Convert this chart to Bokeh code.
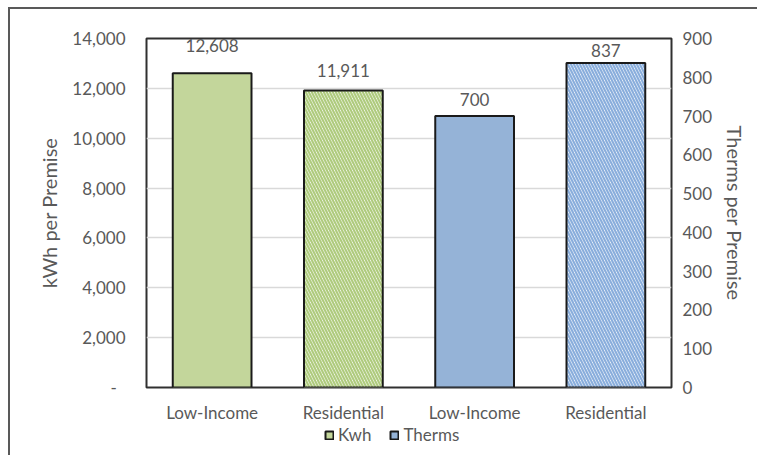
from bokeh.plotting import figure
from bokeh.layouts import column
from bokeh.core.properties import value
from bokeh.models import (Range1d, LinearAxis, FixedTicker, NumeralTickFormatter,
                          ColumnDataSource, LabelSet, Legend, LegendItem)
from bokeh.embed import file_html
from bokeh.resources import INLINE

# ---- data ----
categories = ["Low-Income", "Residential", "Low-Income", "Residential"]
kwh_groups = ["Low-Income", "Residential"]
kwh_values = [12608, 11911]
therms_groups = ["Low-Income", "Residential"]
therms_values = [700, 837]
kwh_ticks = [0, 2000, 4000, 6000, 8000, 10000, 12000, 14000]
therms_ticks = [0, 100, 200, 300, 400, 500, 600, 700, 800, 900]
series_names = ["Kwh", "Therms"]

# ---- style ----
FONT = "Lato"
GREY = "#595959"
GREEN = "#C3D69B"
GREEN_HATCH = "#AFCB7E"
BLUE = "#95B3D7"
BLUE_HATCH = "#8AAEDC"
EDGE = "#1a1a1a"
label_gaps = [21, 14, 10, 6]  # pixel gap between bar top and its value label

xs = [i + 0.5 for i in range(len(categories))]

W = 747
p = figure(width=W, height=416, x_range=Range1d(0, len(categories)),
           y_range=Range1d(kwh_ticks[0], kwh_ticks[-1]),
           output_backend="svg", toolbar_location=None,
           min_border_left=136, min_border_right=86,
           min_border_top=29, min_border_bottom=33)
p.extra_y_ranges = {"therms": Range1d(therms_ticks[0], therms_ticks[-1])}
p.outline_line_color = "#303030"
p.outline_line_width = 2
p.background_fill_color = "white"
p.border_fill_color = "white"

# Kwh bars
r_kwh_solid = p.vbar(x=[xs[0]], top=[kwh_values[0]], width=0.6,
                     fill_color=GREEN, line_color=EDGE, line_width=2)
r_kwh_hatch = p.vbar(x=[xs[1]], top=[kwh_values[1]], width=0.6,
                     fill_color="white", hatch_pattern="left_diagonal_line",
                     hatch_color=GREEN_HATCH, hatch_weight=2.2, hatch_scale=6,
                     line_color=EDGE, line_width=2)
# Therms bars
r_th_solid = p.vbar(x=[xs[2]], top=[therms_values[0]], width=0.6, y_range_name="therms",
                    fill_color=BLUE, line_color=EDGE, line_width=2)
r_th_hatch = p.vbar(x=[xs[3]], top=[therms_values[1]], width=0.6, y_range_name="therms",
                    fill_color="white", hatch_pattern="left_diagonal_line",
                    hatch_color=BLUE_HATCH, hatch_weight=2.2, hatch_scale=6,
                    line_color=EDGE, line_width=2)

# value labels
kwh_src = ColumnDataSource(dict(x=xs[:2], y=kwh_values,
                                t=["{:,}".format(v) for v in kwh_values],
                                off=label_gaps[:2]))
th_src = ColumnDataSource(dict(x=xs[2:], y=therms_values,
                               t=["{:,}".format(v) for v in therms_values],
                               off=label_gaps[2:]))
for src, rn in ((kwh_src, "default"), (th_src, "therms")):
    ls = LabelSet(x="x", y="y", text="t", source=src, y_range_name=rn,
                  y_offset="off", text_align="center", text_baseline="alphabetic",
                  text_font=value(FONT), text_font_size="17px", text_color=GREY)
    p.add_layout(ls)

# axes
p.xgrid.grid_line_color = None
p.ygrid.ticker = FixedTicker(ticks=kwh_ticks)
p.ygrid.grid_line_color = "#D9D9D9"
p.ygrid.grid_line_width = 1.5

xa = p.xaxis[0]
xa.ticker = FixedTicker(ticks=xs)
xa.major_label_overrides = {x: c for x, c in zip(xs, categories)}
xa.axis_line_color = None
xa.major_tick_line_color = None
xa.minor_tick_line_color = None
xa.major_label_standoff = 8
xa.major_label_text_font = FONT
xa.major_label_text_font_size = "17px"
xa.major_label_text_color = GREY

ya = p.yaxis[0]
ya.ticker = FixedTicker(ticks=kwh_ticks)
ya.formatter = NumeralTickFormatter(format="0,0")
ya.major_label_overrides = {0: "-\u00a0\u00a0"}
ya.axis_label = "kWh per Premise"

ra = LinearAxis(y_range_name="therms", ticker=FixedTicker(ticks=therms_ticks),
                axis_label="Therms per Premise")
p.add_layout(ra, "right")

for ax in (ya, ra):
    ax.axis_line_color = None
    ax.major_tick_line_color = None
    ax.minor_tick_line_color = None
    ax.major_label_text_font = FONT
    ax.major_label_text_font_size = "17px"
    ax.major_label_text_color = GREY
    ax.axis_label_text_font = FONT
    ax.axis_label_text_font_size = "20px"
    ax.axis_label_text_font_style = "normal"
    ax.axis_label_text_color = GREY
ya.major_label_standoff = 15
ya.axis_label_standoff = 8
ra.major_label_standoff = 5
ra.axis_label_standoff = 8

# legend strip below the chart (frame aligned with the chart above)
lg = figure(width=W, height=30, x_range=Range1d(0, 1), y_range=Range1d(0, 1),
            output_backend="svg", toolbar_location=None,
            x_axis_location=None, y_axis_location=None,
            min_border_left=136, min_border_right=86,
            min_border_top=0, min_border_bottom=0)
lg.grid.visible = False
lg.outline_line_color = None
lg.border_fill_color = "white"
# legend swatch renderers: hidden, only their legend glyphs are drawn
lg_kwh = lg.vbar(x=[-1], top=[-1], bottom=[-2], width=0.6, fill_color=GREEN,
                 line_color=EDGE, line_width=2, visible=False)
lg_th = lg.vbar(x=[-1], top=[-1], bottom=[-2], width=0.6, fill_color=BLUE,
                line_color=EDGE, line_width=2, visible=False)
legend = Legend(items=[LegendItem(label=series_names[0], renderers=[lg_kwh]),
                       LegendItem(label=series_names[1], renderers=[lg_th])],
                orientation="horizontal", location=(178, 10), click_policy="none",
                glyph_width=10, glyph_height=10, label_standoff=4, spacing=18,
                label_height=18, label_text_font=FONT, label_text_font_size="17px",
                label_text_color=GREY, border_line_color=None,
                background_fill_alpha=0, margin=0, padding=0)
lg.add_layout(legend, "center")

layout = column(p, lg, spacing=0,
                styles={"border-top": "2px solid #595959",
                        "border-left": "2px solid #595959",
                        "margin-left": "8px", "margin-top": "7px"})

open("out.html", "w").write(file_html(layout, INLINE))
